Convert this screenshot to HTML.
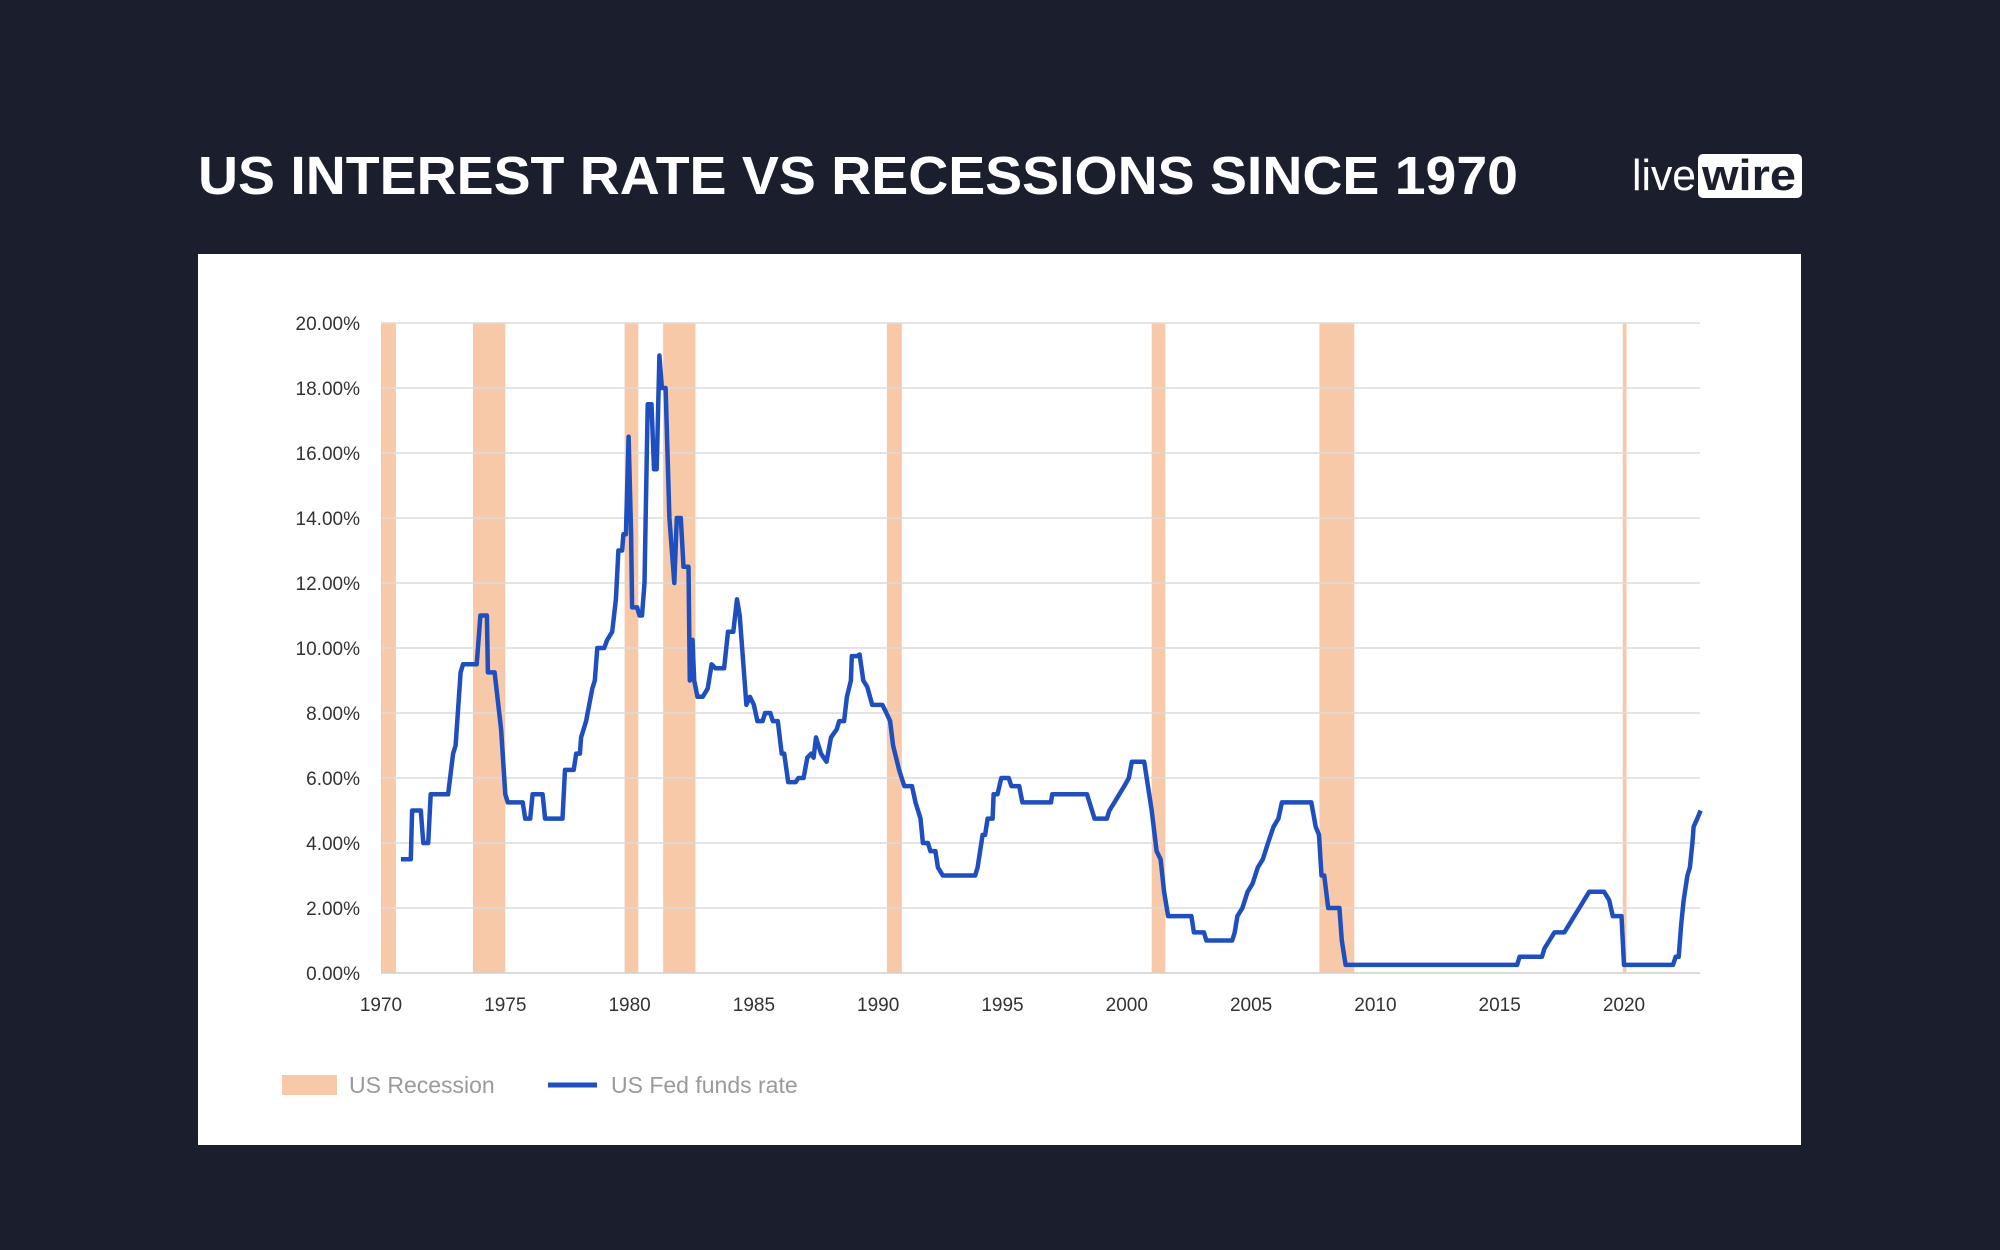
<!DOCTYPE html>
<html><head><meta charset="utf-8"><style>
html,body{margin:0;padding:0;background:#1b1f2d;}
svg{display:block;font-family:"Liberation Sans",sans-serif;}
</style></head><body>
<svg id="chart" width="2000" height="1250" viewBox="0 0 2000 1250">
<rect x="0" y="0" width="2000" height="1250" fill="#1b1f2d"/>
<text x="198" y="194" font-size="54" font-weight="bold" fill="#ffffff" textLength="1320" lengthAdjust="spacingAndGlyphs">US INTEREST RATE VS RECESSIONS SINCE 1970</text>
<g>
<text x="1632" y="190" font-size="44" fill="#ffffff" textLength="64" lengthAdjust="spacingAndGlyphs">live</text>
<rect x="1698" y="154" width="104" height="44" rx="5" fill="#ffffff"/>
<text x="1702" y="190" font-size="44" font-weight="bold" fill="#1b1f2d" textLength="94" lengthAdjust="spacingAndGlyphs">wire</text>
</g>
<rect x="198" y="254" width="1603" height="891" fill="#ffffff"/>
<g id="bands"></g>
<g id="grid"></g>
<g id="yticks"></g>
<g id="xticks"></g>
<g id="series"></g>
<g>
<rect x="282" y="1075" width="55" height="20" fill="#f7c9a8"/>
<text x="349" y="1093" font-size="23" fill="#9a9a9a">US Recession</text>
<line x1="548" y1="1085" x2="597" y2="1085" stroke="#1f4fbf" stroke-width="5"/>
<text x="611" y="1093" font-size="23" fill="#9a9a9a">US Fed funds rate</text>
</g>
</svg>
<script>
const yTicks = [0, 2, 4, 6, 8, 10, 12, 14, 16, 18, 20];
const xTicks = [1970, 1975, 1980, 1985, 1990, 1995, 2000, 2005, 2010, 2015, 2020];
const recessionStarts = [1969.95, 1973.7, 1979.8, 1981.35, 1990.35, 2001.0, 2007.75, 2019.95];
const recessionEnds = [1970.6, 1975.0, 1980.35, 1982.65, 1990.95, 2001.55, 2009.15, 2020.1];
const rateYears = [1970.8,1971.2,1971.25,1971.6,1971.7,1971.9,1972.0,1972.7,1972.9,1973.0,1973.2,1973.3,1973.85,1974.0,1974.26,1974.3,1974.57,1974.83,1975.0,1975.1,1975.7,1975.8,1976.0,1976.1,1976.5,1976.6,1977.3,1977.4,1977.75,1977.85,1978.0,1978.05,1978.25,1978.5,1978.6,1978.7,1978.98,1979.1,1979.3,1979.45,1979.55,1979.7,1979.75,1979.85,1979.96,1980.06,1980.1,1980.3,1980.4,1980.5,1980.6,1980.73,1980.88,1980.98,1981.09,1981.2,1981.3,1981.45,1981.6,1981.8,1981.9,1982.06,1982.17,1982.37,1982.42,1982.53,1982.6,1982.73,1982.94,1983.14,1983.3,1983.45,1983.8,1983.96,1984.17,1984.32,1984.43,1984.7,1984.84,1985.0,1985.14,1985.35,1985.45,1985.66,1985.76,1985.96,1986.12,1986.22,1986.38,1986.68,1986.79,1987.0,1987.15,1987.3,1987.4,1987.5,1987.7,1987.92,1988.1,1988.33,1988.43,1988.63,1988.74,1988.9,1988.94,1989.15,1989.25,1989.4,1989.56,1989.76,1990.17,1990.33,1990.48,1990.6,1990.84,1991.05,1991.36,1991.5,1991.7,1991.8,1992.0,1992.1,1992.3,1992.4,1992.6,1993.9,1994.0,1994.2,1994.3,1994.4,1994.6,1994.64,1994.8,1994.95,1995.25,1995.36,1995.67,1995.8,1996.95,1997.0,1998.4,1998.6,1998.7,1999.2,1999.3,1999.5,1999.7,1999.9,2000.08,2000.2,2000.7,2000.9,2001.0,2001.2,2001.36,2001.5,2001.66,2002.6,2002.7,2003.1,2003.2,2004.24,2004.34,2004.45,2004.65,2004.86,2005.06,2005.27,2005.47,2005.68,2005.9,2006.1,2006.24,2007.42,2007.6,2007.73,2007.83,2007.94,2008.1,2008.55,2008.65,2008.8,2015.7,2015.8,2016.7,2016.8,2017.0,2017.2,2017.6,2017.8,2018.0,2018.2,2018.4,2018.6,2019.2,2019.4,2019.55,2019.9,2020.0,2021.97,2022.08,2022.2,2022.3,2022.4,2022.55,2022.65,2022.75,2022.8,2022.95,2023.08];
const rateValues = [3.5,3.5,5.0,5.0,4.0,4.0,5.5,5.5,6.75,7.0,9.25,9.5,9.5,11.0,11.0,9.25,9.25,7.5,5.5,5.25,5.25,4.75,4.75,5.5,5.5,4.75,4.75,6.25,6.25,6.75,6.75,7.25,7.75,8.75,9.0,10.0,10.0,10.25,10.5,11.5,13.0,13.0,13.5,13.5,16.5,13.5,11.25,11.25,11.0,11.0,12.0,17.5,17.5,15.5,15.5,19.0,18.0,18.0,14.0,12.0,14.0,14.0,12.5,12.5,9.0,10.25,9.0,8.5,8.5,8.75,9.5,9.375,9.375,10.5,10.5,11.5,11.0,8.25,8.5,8.25,7.75,7.75,8.0,8.0,7.75,7.75,6.75,6.75,5.875,5.875,6.0,6.0,6.625,6.75,6.625,7.25,6.75,6.5,7.25,7.5,7.75,7.75,8.5,9.0,9.75,9.75,9.8,9.0,8.8,8.25,8.25,8.0,7.75,7.0,6.25,5.75,5.75,5.25,4.75,4.0,4.0,3.75,3.75,3.25,3.0,3.0,3.25,4.25,4.25,4.75,4.75,5.5,5.5,6.0,6.0,5.75,5.75,5.25,5.25,5.5,5.5,5.0,4.75,4.75,5.0,5.25,5.5,5.75,6.0,6.5,6.5,5.5,5.0,3.75,3.5,2.5,1.75,1.75,1.25,1.25,1.0,1.0,1.25,1.75,2.0,2.5,2.75,3.25,3.5,4.0,4.5,4.75,5.25,5.25,4.5,4.25,3.0,3.0,2.0,2.0,1.0,0.25,0.25,0.5,0.5,0.75,1.0,1.25,1.25,1.5,1.75,2.0,2.25,2.5,2.5,2.25,1.75,1.75,0.25,0.25,0.5,0.5,1.5,2.25,3.0,3.25,4.0,4.5,4.75,5.0];

const NS = "http://www.w3.org/2000/svg";
const X0 = 381, PXY = 24.86, Y0 = 973, PXR = 32.5, XR = 1700;
function xs(yr){ return X0 + (yr - 1970) * PXY; }
function ys(r){ return Y0 - r * PXR; }
function mk(tag, attrs, parent){ const e = document.createElementNS(NS, tag); for (const k in attrs) e.setAttribute(k, attrs[k]); parent.appendChild(e); return e; }

const bands = document.getElementById('bands');
recessionStarts.forEach((s, i) => {
  const r = mk('rect', {x: Math.max(X0, xs(s)), y: ys(20), width: Math.max(2, xs(recessionEnds[i]) - Math.max(X0, xs(s))), height: ys(0) - ys(20), fill: '#f7c9a8'}, bands);
  
  
});
const grid = document.getElementById('grid');
const yg = document.getElementById('yticks');
yTicks.forEach(t => {
  const l = mk('line', {x1: X0, x2: XR, y1: ys(t), y2: ys(t), stroke: t === 0 ? '#cfcfcf' : '#dcdcdc', 'stroke-width': 1.5}, grid);
  
  
  const tx = mk('text', {x: 360, y: ys(t) + 7, 'text-anchor': 'end', 'font-size': 19, fill: '#333'}, yg);
  tx.textContent = t.toFixed(2) + '%';
  
  
});
const xg = document.getElementById('xticks');
xTicks.forEach(t => {
  const tx = mk('text', {x: xs(t), y: 1011, 'text-anchor': 'middle', 'font-size': 19, fill: '#333'}, xg);
  tx.textContent = t;
  
  
});
const pts = rateYears.map((y, i) => xs(y).toFixed(1) + ',' + ys(rateValues[i]).toFixed(1)).join(' ');
const pl = mk('polyline', {points: pts, fill: 'none', stroke: '#1f4fbf', 'stroke-width': 4.5, 'stroke-linejoin': 'round'}, document.getElementById('series'));


</script>
</body></html>
